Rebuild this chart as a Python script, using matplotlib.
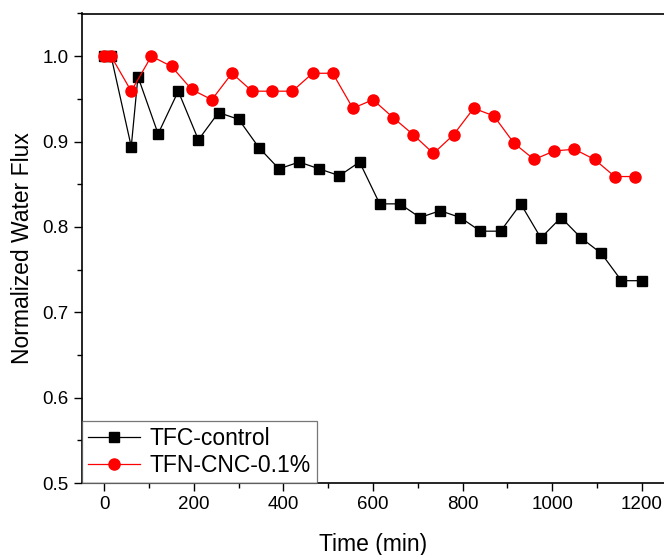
import matplotlib
matplotlib.use("Agg")
import matplotlib.pyplot as plt
from matplotlib.ticker import MultipleLocator

plt.rcParams['font.family'] = ['Liberation Sans', 'DejaVu Sans']

time_control = [0, 15, 60, 75, 120, 165, 210, 255, 300, 345, 390, 435, 480, 525, 570,
                615, 660, 705, 750, 795, 840, 885, 930, 975, 1020, 1065, 1110, 1155, 1200]
flux_control = [1.0, 1.0, 0.894, 0.976, 0.909, 0.959, 0.902, 0.934, 0.926, 0.893, 0.868,
                0.876, 0.868, 0.860, 0.876, 0.827, 0.827, 0.811, 0.819, 0.811, 0.795,
                0.795, 0.827, 0.787, 0.811, 0.787, 0.769, 0.737, 0.737]

time_cnc = [0, 15, 60, 105, 150, 195, 240, 285, 330, 375, 420, 465, 510, 555, 600,
            645, 690, 735, 780, 825, 870, 915, 960, 1005, 1050, 1095, 1140, 1185]
flux_cnc = [1.0, 1.0, 0.959, 1.0, 0.988, 0.961, 0.949, 0.980, 0.959, 0.959, 0.959,
            0.980, 0.980, 0.939, 0.949, 0.928, 0.908, 0.886, 0.908, 0.939, 0.930,
            0.898, 0.879, 0.889, 0.891, 0.879, 0.859, 0.859]

labels = ['TFC-control', 'TFN-CNC-0.1%']

fig = plt.figure(figsize=(6.64, 5.55), dpi=100)
ax = fig.add_axes([82/664, 72/555, 1 - 82/664, (483 - 13.5)/555])

ax.plot(time_control, flux_control, color='black', marker='s', markersize=6.8,
        linewidth=0.9, label=labels[0])
ax.plot(time_cnc, flux_cnc, color='red', marker='o', markersize=8,
        linewidth=0.9, label=labels[1])

ax.set_xlim(-50, 1250)
ax.set_ylim(0.5, 1.05)
ax.xaxis.set_major_locator(MultipleLocator(200))
ax.xaxis.set_minor_locator(MultipleLocator(100))
ax.yaxis.set_major_locator(MultipleLocator(0.1))
ax.yaxis.set_minor_locator(MultipleLocator(0.05))
ax.yaxis.set_major_formatter(matplotlib.ticker.FormatStrFormatter('%.1f'))

ax.spines['right'].set_visible(False)
for s in ['left', 'bottom', 'top']:
    ax.spines[s].set_linewidth(1.2)
ax.tick_params(which='both', direction='out', top=False, right=False, width=1.0,
               labelsize=13.5, colors='black')
ax.tick_params(which='major', length=6)
ax.tick_params(which='minor', length=3.5)

ax.set_xlabel('Time (min)', fontsize=16.5, labelpad=14)
ax.set_ylabel('Normalized Water Flux', fontsize=16.5, labelpad=6)

leg = ax.legend(loc='lower left', fontsize=16.5, frameon=True, fancybox=False,
                borderaxespad=0, handlelength=2.3, handletextpad=0.4,
                labelspacing=0.2, borderpad=0.25)
leg.get_frame().set_edgecolor('#555555')
leg.get_frame().set_linewidth(0.9)

fig.savefig('out.png', dpi=100)
